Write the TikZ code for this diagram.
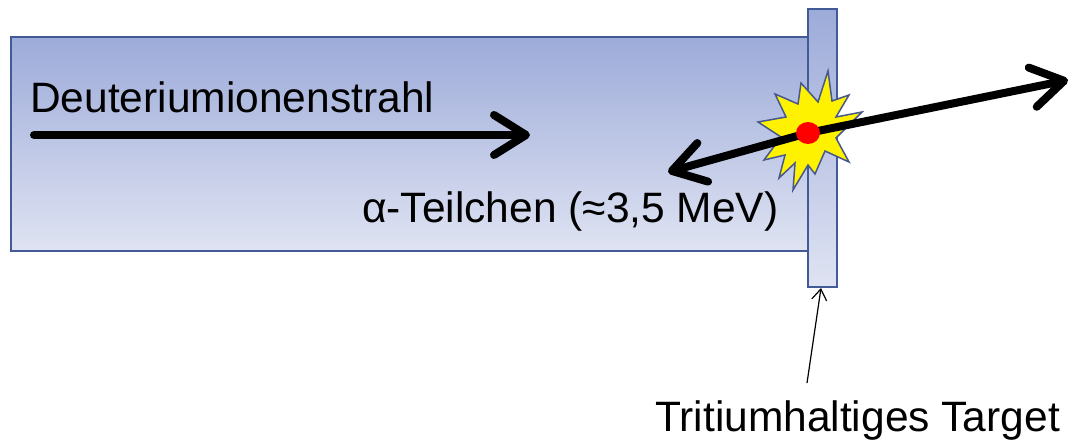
\documentclass[tikz,border=0pt]{standalone}
\usepackage{fontspec}
\setmainfont{Liberation Sans}
\usetikzlibrary{arrows.meta}
\definecolor{edgeblue}{RGB}{66,90,150}
\definecolor{shadetop}{RGB}{157,171,217}
\definecolor{shadebot}{RGB}{223,227,242}
\definecolor{burstedge}{RGB}{70,88,140}
\tikzset{
  chamber/.style={draw=edgeblue, line width=1.5pt, top color=shadetop, bottom color=shadebot},
  label/.style={inner sep=0pt, anchor=base west, font=\fontsize{42.5}{50}\selectfont},
  beam/.style={line width=8pt, line cap=round, line join=round,
    -{Straight Barb[round, length=32pt, width=40pt]}},
  pointer/.style={line width=1.2pt, -{Straight Barb[length=11pt, width=15pt]}}
}
\begin{document}
\begin{tikzpicture}[x=1pt, y=-1pt]
\useasboundingbox (0,0) rectangle (1073,443);
% ion beam chamber and target strip
\path[chamber] (11,37) rectangle (808,251);
\path[chamber] (808,9) rectangle (837,287);
\coordinate (tgtfoot) at (821,288);
% reaction burst
\draw[fill=yellow, draw=burstedge, line width=1.5pt, line join=miter]
  (828,71) -- (818,102) -- (801,83) -- (798,104) -- (775,94) -- (786,117)
  -- (758,122) -- (781,137) -- (764,160) -- (785,155) -- (779,178)
  -- (795,163) -- (793,190) -- (808,165) -- (815,174) -- (825,151)
  -- (849,162) -- (836,138) -- (862,112) -- (836,117) -- (849,95)
  -- (832,101) -- cycle;
% beam and reaction products
\coordinate (hit) at (808,133);
\coordinate (dstart) at (34,135);
\coordinate (dend) at (530,135);
\coordinate (aend) at (668,172);
\coordinate (nend) at (1068,80);
\draw[beam] (dstart) -- (dend);
\draw[beam] (hit) -- (aend);
\draw[beam] (hit) -- (nend);
\fill[red] (hit) ellipse [x radius=12pt, y radius=11pt];
% labels
\node[label] (dlabel) at (30,113) {Deuteriumionenstrahl};
\node[label] (alabel) at (362,223) {α-Teilchen (≈3,5 MeV)};
\node[label] (tlabel) at (655,431) {Tritiumhaltiges Target};
\coordinate (ptr) at (807,383);
\draw[pointer] (ptr) -- (tgtfoot);
\end{tikzpicture}
\end{document}
